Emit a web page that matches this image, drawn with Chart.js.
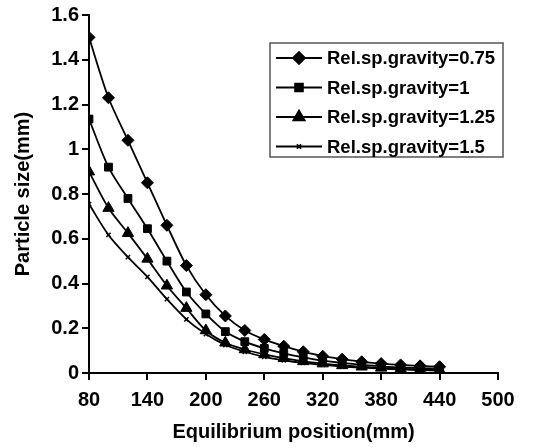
<!DOCTYPE html>
<html>
<head>
<meta charset="utf-8">
<script src="https://cdn.jsdelivr.net/npm/chart.js@4/dist/chart.umd.min.js"></script>
<style>
  html, body { margin: 0; padding: 0; background: #fff; }
  #wrap { width: 550px; height: 447px; }
</style>
</head>
<body>
<div id="wrap"><canvas id="chart" width="550" height="447"></canvas></div>
<script>
// Equilibrium position (mm)
const positions = [80, 100, 120, 140, 160, 180, 200, 220, 240, 260, 280, 300, 320, 340, 360, 380, 400, 420, 440];

// Particle size (mm) for each relative specific gravity
const gravity075 = [1.50, 1.23, 1.04, 0.85, 0.66, 0.48, 0.35, 0.255, 0.19, 0.15, 0.12, 0.095, 0.075, 0.062, 0.05, 0.042, 0.036, 0.032, 0.028];
const gravity100 = [1.135, 0.92, 0.78, 0.645, 0.50, 0.362, 0.264, 0.185, 0.14, 0.11, 0.088, 0.07, 0.055, 0.045, 0.036, 0.03, 0.025, 0.022, 0.019];
const gravity125 = [0.90, 0.737, 0.625, 0.51, 0.39, 0.29, 0.19, 0.135, 0.105, 0.083, 0.066, 0.052, 0.042, 0.034, 0.028, 0.023, 0.019, 0.016, 0.014];
const gravity150 = [0.755, 0.617, 0.518, 0.43, 0.33, 0.24, 0.174, 0.125, 0.095, 0.072, 0.057, 0.045, 0.036, 0.029, 0.024, 0.02, 0.016, 0.013, 0.011];

const seriesLabels = ['Rel.sp.gravity=0.75', 'Rel.sp.gravity=1', 'Rel.sp.gravity=1.25', 'Rel.sp.gravity=1.5'];
const xTicks = [80, 140, 200, 260, 320, 380, 440, 500];
const yTicks = [0, 0.2, 0.4, 0.6, 0.8, 1, 1.2, 1.4, 1.6];

const FONT = '"Liberation Sans", Arial, sans-serif';

const markers = [
  { style: 'rectRot', radius: 6 },
  { style: 'rect', radius: 5.5 },
  { style: 'triangle', radius: 6.5 },
  { style: 'crossRot', radius: 3 }
];

function serie(label, values, m) {
  return {
    label: label,
    data: positions.map((x, i) => ({ x: x, y: values[i] })),
    borderColor: '#000',
    backgroundColor: '#000',
    borderWidth: 1.8,
    tension: 0.3,
    pointStyle: m.style,
    pointRadius: m.radius,
    pointBorderWidth: m.style === 'crossRot' ? 1.5 : 1,
    pointBackgroundColor: '#000',
    pointBorderColor: '#000'
  };
}

// legend drawn inside the plot area, framed box
const boxLegend = {
  id: 'boxLegend',
  afterDraw(chart) {
    const ctx = chart.ctx;
    const left = 270, top = 43, width = 233, height = 114;
    ctx.save();
    ctx.fillStyle = '#fff';
    ctx.fillRect(left, top, width, height);
    ctx.strokeStyle = '#555';
    ctx.lineWidth = 1.5;
    ctx.strokeRect(left, top, width, height);
    ctx.font = 'bold 18.5px ' + FONT;
    ctx.textBaseline = 'middle';
    ctx.fillStyle = '#000';
    chart.data.datasets.forEach((ds, i) => {
      const y = top + 15 + i * 29.5;
      ctx.strokeStyle = '#000';
      ctx.lineWidth = 1.8;
      ctx.beginPath();
      ctx.moveTo(left + 6, y);
      ctx.lineTo(left + 52, y);
      ctx.stroke();
      Chart.helpers.drawPoint(ctx, {
        pointStyle: ds.pointStyle,
        radius: ds.pointRadius,
        borderWidth: ds.pointBorderWidth
      }, left + 29, y);
      ctx.fillStyle = '#000';
      ctx.fillText(ds.label, left + 57, y + 1);
    });
    ctx.restore();
  }
};

new Chart(document.getElementById('chart'), {
  type: 'line',
  data: {
    datasets: [
      serie(seriesLabels[0], gravity075, markers[0]),
      serie(seriesLabels[1], gravity100, markers[1]),
      serie(seriesLabels[2], gravity125, markers[2]),
      serie(seriesLabels[3], gravity150, markers[3])
    ]
  },
  options: {
    responsive: false,
    animation: false,
    layout: { padding: { left: 0, right: 52, top: 15, bottom: 0 } },
    plugins: {
      legend: { display: false },
      tooltip: { enabled: false }
    },
    scales: {
      x: {
        type: 'linear',
        min: 80,
        max: 500,
        afterBuildTicks: (scale) => { scale.ticks = xTicks.map(v => ({ value: v })); },
        afterFit: (scale) => { scale.height = 74; },
        border: { display: true, color: '#000', width: 2 },
        grid: { drawOnChartArea: false, drawTicks: true, tickLength: 7, color: '#000', lineWidth: 2 },
        ticks: {
          color: '#000',
          padding: 8,
          maxRotation: 0,
          font: { family: FONT, size: 20, weight: 'bold' }
        },
        title: {
          display: true,
          text: 'Equilibrium position(mm)',
          color: '#000',
          padding: { top: 0, bottom: 3 },
          font: { family: FONT, size: 20, weight: 'bold' }
        }
      },
      y: {
        type: 'linear',
        min: 0,
        max: 1.6,
        afterBuildTicks: (scale) => { scale.ticks = yTicks.map(v => ({ value: v })); },
        afterFit: (scale) => { scale.width = 89; },
        border: { display: true, color: '#000', width: 2 },
        grid: { drawOnChartArea: false, drawTicks: true, tickLength: 7, color: '#000', lineWidth: 2 },
        ticks: {
          color: '#000',
          padding: 3,
          font: { family: FONT, size: 20, weight: 'bold' },
          callback: (v) => String(Number(v.toFixed(1)))
        },
        title: {
          display: true,
          text: 'Particle size(mm)',
          color: '#000',
          padding: { top: 11, bottom: 0 },
          font: { family: FONT, size: 20, weight: 'bold' }
        }
      }
    }
  },
  plugins: [boxLegend]
});
</script>
</body>
</html>
